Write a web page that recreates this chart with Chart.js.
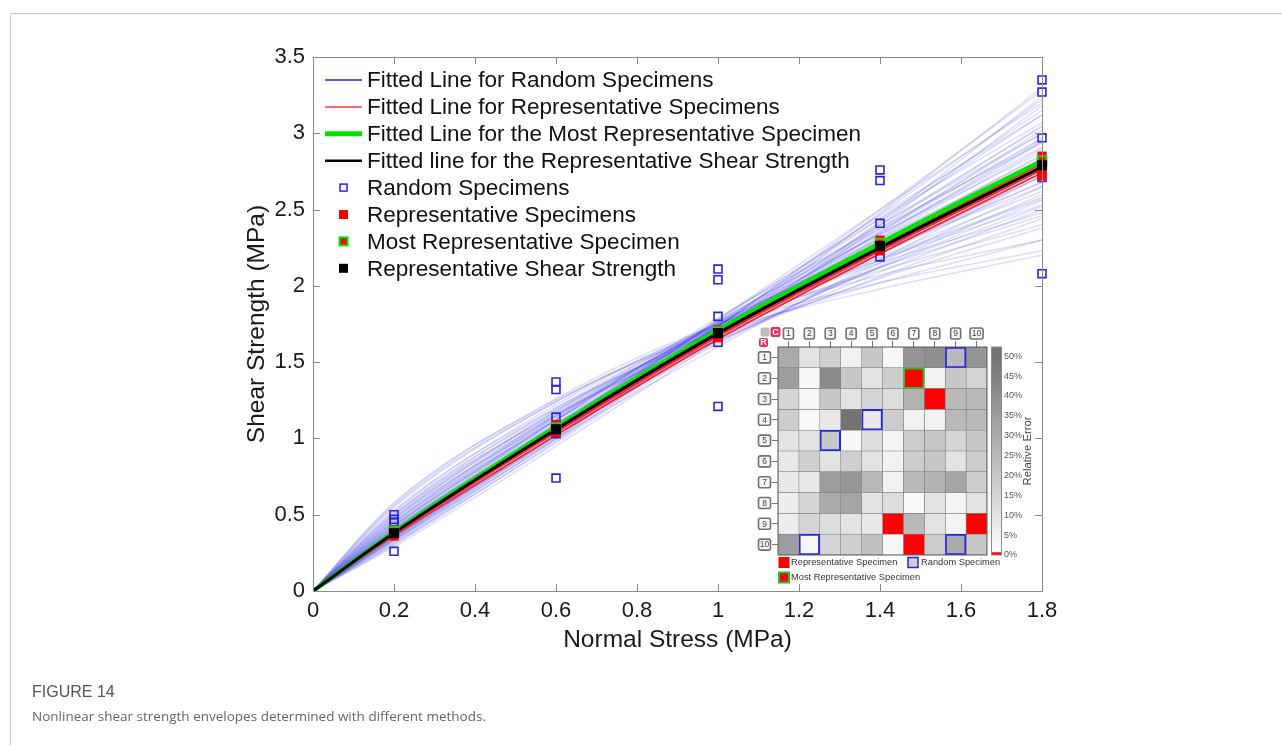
<!DOCTYPE html>
<html>
<head>
<meta charset="utf-8">
<title>Figure 14</title>
<script src="https://cdn.jsdelivr.net/npm/chart.js@4.4.0/dist/chart.umd.min.js"></script>
<style>
  body { margin: 0; background: #fff; width: 1282px; height: 745px; overflow: hidden; position: relative; }
  .card { position: absolute; left: 10px; top: 13px; right: -2px; bottom: -2px; border: 1px solid #c9c9c9; }
  canvas { position: absolute; }
  #fig_no { position: absolute; left: 32px; top: 683px; font: 16px 'Liberation Sans Narrow', 'Liberation Sans', Arial, sans-serif; color: #555; }
  #fig_caption { position: absolute; left: 32px; top: 707px; font: 13.5px 'Open Sans', sans-serif; color: #666; }
</style>
</head>
<body>
<div class="card"></div>
<canvas id="main" width="1282" height="745" style="left:0;top:0"></canvas>
<canvas id="inset" width="310" height="280" style="left:735px;top:315px"></canvas>
<canvas id="cbar" width="60" height="235" style="left:985px;top:335px"></canvas>
<div id="fig_no">FIGURE 14</div>
<div id="fig_caption">Nonlinear shear strength envelopes determined with different methods.</div>

<script>
  // values

  // fitted envelopes, sampled at these normal stresses (MPa)
  const fitStress = [0, 0.2, 0.6, 1.0, 1.4, 1.8];

  const randomFits = [
    [0, 0.30, 0.98, 1.70, 2.48, 3.30],
    [0, 0.31, 1.00, 1.73, 2.50, 3.28],
    [0, 0.33, 1.02, 1.74, 2.47, 3.22],
    [0, 0.29, 0.95, 1.65, 2.40, 3.18],
    [0, 0.34, 1.05, 1.78, 2.50, 3.20],
    [0, 0.32, 1.00, 1.70, 2.42, 3.12],
    [0, 0.35, 1.06, 1.77, 2.46, 3.12],
    [0, 0.33, 1.01, 1.70, 2.38, 3.05],
    [0, 0.36, 1.08, 1.78, 2.44, 3.07],
    [0, 0.34, 1.02, 1.70, 2.36, 3.00],
    [0, 0.37, 1.08, 1.76, 2.40, 3.00],
    [0, 0.35, 1.03, 1.69, 2.33, 2.95],
    [0, 0.38, 1.09, 1.76, 2.37, 2.96],
    [0, 0.36, 1.04, 1.69, 2.31, 2.90],
    [0, 0.40, 1.12, 1.79, 2.38, 2.94],
    [0, 0.37, 1.05, 1.68, 2.28, 2.86],
    [0, 0.41, 1.12, 1.77, 2.34, 2.88],
    [0, 0.38, 1.06, 1.68, 2.26, 2.82],
    [0, 0.42, 1.13, 1.76, 2.31, 2.83],
    [0, 0.36, 1.00, 1.60, 2.17, 2.72],
    [0, 0.43, 1.14, 1.75, 2.28, 2.78],
    [0, 0.40, 1.07, 1.67, 2.21, 2.72],
    [0, 0.44, 1.15, 1.75, 2.26, 2.74],
    [0, 0.39, 1.04, 1.62, 2.15, 2.65],
    [0, 0.45, 1.16, 1.74, 2.23, 2.68],
    [0, 0.41, 1.06, 1.63, 2.13, 2.60],
    [0, 0.47, 1.18, 1.76, 2.23, 2.65],
    [0, 0.43, 1.09, 1.65, 2.12, 2.56],
    [0, 0.48, 1.17, 1.72, 2.17, 2.57],
    [0, 0.45, 1.10, 1.64, 2.09, 2.50],
    [0, 0.50, 1.20, 1.74, 2.17, 2.53],
    [0, 0.47, 1.12, 1.64, 2.06, 2.44],
    [0, 0.52, 1.22, 1.75, 2.15, 2.48],
    [0, 0.50, 1.16, 1.66, 2.05, 2.38],
    [0, 0.55, 1.24, 1.74, 2.10, 2.40],
    [0, 0.53, 1.20, 1.68, 2.02, 2.30],
    [0, 0.57, 1.26, 1.75, 2.07, 2.30],
    [0, 0.56, 1.24, 1.72, 2.02, 2.23],
    [0, 0.58, 1.25, 1.70, 1.98, 2.20],
    [0, 0.33, 0.99, 1.68, 2.35, 3.02],
    [0, 0.31, 0.97, 1.67, 2.42, 3.24],
    [0, 0.34, 1.03, 1.74, 2.44, 3.15],
    [0, 0.36, 1.06, 1.74, 2.40, 3.04],
    [0, 0.37, 1.06, 1.72, 2.35, 2.97],
    [0, 0.39, 1.09, 1.74, 2.34, 2.91],
    [0, 0.40, 1.10, 1.73, 2.30, 2.85],
    [0, 0.42, 1.12, 1.74, 2.28, 2.80],
    [0, 0.43, 1.12, 1.72, 2.24, 2.74],
    [0, 0.45, 1.14, 1.72, 2.21, 2.68],
    [0, 0.46, 1.15, 1.72, 2.19, 2.62],
    [0, 0.49, 1.18, 1.73, 2.18, 2.58],
    [0, 0.48, 1.15, 1.68, 2.12, 2.52],
    [0, 0.51, 1.19, 1.71, 2.12, 2.46],
    [0, 0.38, 1.05, 1.66, 2.22, 2.76],
    [0, 0.41, 1.08, 1.68, 2.22, 2.72],
    [0, 0.35, 1.02, 1.68, 2.32, 2.94]
  ];

  const repFits = [
    [0, 0.36, 1.02, 1.65, 2.21, 2.74],
    [0, 0.37, 1.04, 1.67, 2.23, 2.76],
    [0, 0.38, 1.05, 1.68, 2.24, 2.77],
    [0, 0.39, 1.07, 1.70, 2.27, 2.81],
    [0, 0.38, 1.06, 1.69, 2.26, 2.80]
  ];
  const mostRepFit = [0, 0.385, 1.075, 1.71, 2.28, 2.82];
  const repStrengthFit = [0, 0.38, 1.06, 1.69, 2.25, 2.78];

  // test results
  const testStress = [0.2, 0.6, 1.0, 1.4, 1.8];
  const randomSpecimens = [
    [0.50, 0.47, 0.45, 0.39, 0.26],
    [1.37, 1.32, 1.14, 1.03, 0.74],
    [2.11, 2.04, 1.80, 1.63, 1.21],
    [2.76, 2.69, 2.41, 2.27, 2.19],
    [3.35, 3.27, 2.97, 2.71, 2.08]
  ];
  const repSpecimens = [
    [0.40, 0.39, 0.38, 0.37, 0.36],
    [1.09, 1.07, 1.06, 1.05, 1.04],
    [1.71, 1.70, 1.69, 1.68, 1.66],
    [2.30, 2.28, 2.26, 2.25, 2.23],
    [2.85, 2.82, 2.79, 2.76, 2.72]
  ];
  const mostRepSpecimen = [0.39, 1.07, 1.70, 2.28, 2.82];
  const repStrength = [0.38, 1.06, 1.69, 2.26, 2.79];

  const legendLabels = [
    'Fitted Line for Random Specimens',
    'Fitted Line for Representative Specimens',
    'Fitted Line for the Most Representative Specimen',
    'Fitted line for the Representative Shear Strength',
    'Random Specimens',
    'Representative Specimens',
    'Most Representative Specimen',
    'Representative Shear Strength'
  ];

  // inset: relative error (%) of each specimen pair, rows R x columns C
  const gridRows = ['1', '2', '3', '4', '5', '6', '7', '8', '9', '10'];
  const gridCols = ['1', '2', '3', '4', '5', '6', '7', '8', '9', '10'];
  const relError = [
    [30, 10, 17, 5, 20, 3, 38, 40, 25, 38],
    [35, 3, 42, 20, 10, 18, 0, 5, 20, 15],
    [15, 3, 20, 10, 15, 12, 28, 0, 25, 25],
    [18, 2, 8, 50, 8, 18, 5, 5, 25, 25],
    [10, 10, 20, 3, 12, 4, 18, 20, 15, 20],
    [8, 17, 10, 17, 10, 5, 18, 20, 10, 18],
    [8, 8, 35, 37, 25, 5, 25, 27, 32, 18],
    [6, 15, 30, 32, 10, 12, 2, 10, 4, 10],
    [6, 15, 12, 10, 8, 0, 25, 10, 4, 0],
    [35, 3, 15, 17, 22, 3, 0, 18, 30, 20]
  ];
  const repCells = [[2, 7], [3, 8], [9, 6], [9, 10], [10, 7]];
  const randomCells = [[1, 9], [4, 5], [5, 3], [10, 2], [10, 9]];
  const mostRepCell = [2, 7];
  const insetLegendLabels = ['Representative Specimen', 'Random Specimen', 'Most Representative Specimen'];

  const FONT = "'Liberation Sans', Arial, sans-serif";
  Chart.defaults.font.family = FONT;

  const BLUE = '#2424e6', RED = '#ff0000', GREEN = '#00e400';

  const toPoints = (xs, ys) => xs.map((x, i) => ({x, y: ys[i]}));
  const stackPoints = (cols) => testStress.flatMap((x, i) => cols[i].map(y => ({x, y})));

  const fitLine = (ys, color, width, order) => ({
    data: toPoints(fitStress, ys),
    borderColor: color,
    borderWidth: width,
    pointRadius: 0,
    cubicInterpolationMode: 'monotone',
    order
  });

  const markers = (data, fill, border, radius, bw, order) => ({
    data,
    showLine: false,
    pointStyle: 'rect',
    pointRadius: radius,
    pointBackgroundColor: fill,
    pointBorderColor: border,
    pointBorderWidth: bw,
    clip: false,
    order
  });

  // square drawn like Chart.js 'rect' points
  function square(ctx, x, y, side, fill, stroke, lw) {
    if (fill) { ctx.fillStyle = fill; ctx.fillRect(x - side / 2, y - side / 2, side, side); }
    if (stroke) { ctx.strokeStyle = stroke; ctx.lineWidth = lw; ctx.strokeRect(x - side / 2, y - side / 2, side, side); }
  }

  const framePlugin = {
    id: 'frame',
    afterDatasetsDraw(chart) {
      const {ctx, chartArea: a, scales: {x, y}} = chart;
      ctx.save();
      ctx.strokeStyle = '#8a8a8a';
      ctx.lineWidth = 1;
      ctx.strokeRect(a.left + 0.5, a.top + 0.5, a.right - a.left, a.bottom - a.top);
      ctx.beginPath();
      x.ticks.forEach(t => {
        const px = Math.round(x.getPixelForValue(t.value)) + 0.5;
        ctx.moveTo(px, a.bottom); ctx.lineTo(px, a.bottom - 7);
        ctx.moveTo(px, a.top); ctx.lineTo(px, a.top + 7);
      });
      y.ticks.forEach(t => {
        const py = Math.round(y.getPixelForValue(t.value)) + 0.5;
        ctx.moveTo(a.left, py); ctx.lineTo(a.left + 7, py);
        ctx.moveTo(a.right, py); ctx.lineTo(a.right - 7, py);
      });
      ctx.stroke();
      ctx.restore();
    }
  };

  const legendPlugin = {
    id: 'insideLegend',
    afterDraw(chart) {
      const {ctx, chartArea: a} = chart;
      const samples = [
        (x0, x1, y) => { ctx.strokeStyle = BLUE; ctx.lineWidth = 1.5; line(x0, x1, y); },
        (x0, x1, y) => { ctx.strokeStyle = '#f03c3c'; ctx.lineWidth = 1.5; line(x0, x1, y); },
        (x0, x1, y) => { ctx.strokeStyle = GREEN; ctx.lineWidth = 5; line(x0, x1, y); },
        (x0, x1, y) => { ctx.strokeStyle = '#000'; ctx.lineWidth = 2.5; line(x0, x1, y); },
        (x0, x1, y) => square(ctx, (x0 + x1) / 2, y, 7, null, BLUE, 1.5),
        (x0, x1, y) => square(ctx, (x0 + x1) / 2, y, 9, RED),
        (x0, x1, y) => square(ctx, (x0 + x1) / 2, y, 8, RED, GREEN, 2),
        (x0, x1, y) => square(ctx, (x0 + x1) / 2, y, 9, '#000')
      ];
      function line(x0, x1, y) { ctx.beginPath(); ctx.moveTo(x0, y); ctx.lineTo(x1, y); ctx.stroke(); }
      ctx.save();
      ctx.font = `22.5px ${FONT}`;
      ctx.textBaseline = 'middle';
      legendLabels.forEach((label, i) => {
        const y = a.top + 23 + i * 26.9;
        samples[i](a.left + 12, a.left + 49, y);
        ctx.fillStyle = '#111';
        ctx.fillText(label, a.left + 54, y + 1);
      });
      ctx.restore();
    }
  };

  new Chart(document.getElementById('main'), {
    type: 'line',
    data: {
      datasets: [
        markers(toPoints(testStress, repStrength), '#000', '#000', 7.2, 0, 0),
        markers(toPoints(testStress, mostRepSpecimen), RED, GREEN, 6.2, 2, 1),
        markers(stackPoints(repSpecimens), RED, RED, 6.5, 0, 2),
        markers(stackPoints(randomSpecimens), 'rgba(0,0,0,0)', BLUE, 5.6, 1.6, 3),
        fitLine(repStrengthFit, '#000', 3, 4),
        fitLine(mostRepFit, GREEN, 4.5, 5),
        ...repFits.map(ys => fitLine(ys, '#ff1e1e', 1.6, 6)),
        ...randomFits.map(ys => fitLine(ys, 'rgba(45, 45, 225, 0.16)', 1.5, 7))
      ]
    },
    options: {
      responsive: false,
      animation: false,
      events: [],
      layout: { padding: { left: 243, top: 57, right: 240, bottom: 90 } },
      plugins: { legend: { display: false }, tooltip: { enabled: false } },
      scales: {
        x: {
          type: 'linear', min: 0, max: 1.8,
          grid: { display: false, drawTicks: false }, border: { display: false },
          ticks: { stepSize: 0.2, padding: 7, color: '#1a1a1a', font: { size: 22 }, maxRotation: 0,
                   callback: v => String(+v.toFixed(1)) },
          title: { display: true, text: 'Normal Stress (MPa)', color: '#1a1a1a', font: { size: 24.5 }, padding: 0 },
          afterFit: s => { s.height = 64; }
        },
        y: {
          type: 'linear', min: 0, max: 3.5,
          grid: { display: false, drawTicks: false }, border: { display: false },
          ticks: { stepSize: 0.5, padding: 8, color: '#1a1a1a', font: { size: 22 },
                   callback: v => String(+v.toFixed(1)) },
          title: { display: true, text: 'Shear Strength (MPa)', color: '#1a1a1a', font: { size: 24.5 }, padding: 0 },
          afterFit: s => { s.width = 70; }
        }
      }
    },
    plugins: [framePlugin, legendPlugin]
  });

  // inset: error matrix

  const cellKey = (r, c) => r + ',' + c;
  const repSet = new Set(repCells.map(([r, c]) => cellKey(r, c)));
  const randSet = new Set(randomCells.map(([r, c]) => cellKey(r, c)));
  const grayOf = e => { const g = Math.round(255 - e * 2.8); return `rgb(${g},${g},${g})`; };
  const isMostRep = (r, c) => r === mostRepCell[0] && c === mostRepCell[1];

  function roundBox(ctx, cx, cy, w, h, rad) {
    ctx.beginPath();
    ctx.roundRect(cx - w / 2, cy - h / 2, w, h, rad);
  }

  const insetDecor = {
    id: 'insetDecor',
    afterDraw(chart) {
      const {ctx, chartArea: a, scales: {x, y}} = chart;
      ctx.save();
      ctx.strokeStyle = '#5a5a5a';
      ctx.lineWidth = 1;
      ctx.strokeRect(a.left, a.top, a.right - a.left, a.bottom - a.top);

      ctx.font = `8.5px ${FONT}`;
      ctx.textAlign = 'center';
      ctx.textBaseline = 'middle';
      const label = (cx, cy, w, h, text) => {
        roundBox(ctx, cx, cy, w, h, 2);
        ctx.fillStyle = '#f6f6f6'; ctx.fill();
        ctx.strokeStyle = '#707070'; ctx.lineWidth = 1.6; ctx.stroke();
        ctx.fillStyle = '#444'; ctx.fillText(text, cx, cy + 0.5);
      };
      gridCols.forEach((c, i) => label(x.getPixelForValue(i + 0.5), a.top - 13.5, c.length > 1 ? 13 : 10, 11, c));
      gridRows.forEach((r, i) => label(a.left - 13.5, y.getPixelForValue(i), 12, 11, r));

      // corner badges
      roundBox(ctx, a.left - 13, a.top - 15, 9, 9, 2);
      ctx.fillStyle = '#bdbdbd'; ctx.fill();
      ctx.font = `bold 9px ${FONT}`;
      roundBox(ctx, a.left - 2.5, a.top - 15, 10, 10, 2);
      ctx.fillStyle = '#f0305a'; ctx.fill();
      ctx.fillStyle = '#fff'; ctx.fillText('C', a.left - 2.5, a.top - 14.5);
      roundBox(ctx, a.left - 14.5, a.top - 4.5, 9, 9, 2);
      ctx.fillStyle = '#f0305a'; ctx.fill();
      ctx.fillStyle = '#fff'; ctx.fillText('R', a.left - 14.5, a.top - 4);

      // legend under the matrix
      ctx.font = `9.3px ${FONT}`;
      ctx.textAlign = 'left';
      const y1 = a.bottom + 7.5, y2 = a.bottom + 22.5;
      square(ctx, a.left + 6, y1, 11, RED);
      ctx.fillStyle = '#333'; ctx.fillText(insetLegendLabels[0], a.left + 13, y1);
      square(ctx, a.left + 135, y1, 10, '#cfcfcf', BLUE, 1.5);
      ctx.fillStyle = '#333'; ctx.fillText(insetLegendLabels[1], a.left + 143, y1);
      square(ctx, a.left + 6, y2, 10, RED, '#22c322', 2);
      ctx.fillStyle = '#333'; ctx.fillText(insetLegendLabels[2], a.left + 13, y2);
      ctx.restore();
    }
  };

  new Chart(document.getElementById('inset'), {
    type: 'bar',
    data: {
      labels: gridRows,
      datasets: gridCols.map((col, j) => ({
        label: col,
        data: gridRows.map(() => 1),
        backgroundColor: c => repSet.has(cellKey(c.dataIndex + 1, j + 1)) ? RED : grayOf(relError[c.dataIndex][j]),
        borderColor: c => {
          const r = c.dataIndex + 1, k = j + 1;
          if (isMostRep(r, k)) return '#22c322';
          if (randSet.has(cellKey(r, k))) return BLUE;
          return '#808080';
        },
        borderWidth: c => {
          const r = c.dataIndex + 1, k = j + 1;
          return isMostRep(r, k) || randSet.has(cellKey(r, k)) ? 2 : 0.6;
        },
        borderSkipped: false,
        barPercentage: 1,
        categoryPercentage: 1
      }))
    },
    options: {
      indexAxis: 'y',
      responsive: false,
      animation: false,
      events: [],
      layout: { padding: { left: 20, top: 10, right: 58, bottom: 40 } },
      plugins: { legend: { display: false }, tooltip: { enabled: false } },
      scales: {
        x: {
          type: 'linear', position: 'top', stacked: true, min: 0, max: 10,
          afterBuildTicks: s => { s.ticks = gridCols.map((c, i) => ({value: i + 0.5})); },
          ticks: { display: false },
          grid: { drawOnChartArea: false, tickLength: 6, color: '#777' },
          border: { display: false },
          afterFit: s => { s.height = 22; }
        },
        y: {
          type: 'category', stacked: true,
          ticks: { display: false },
          grid: { drawOnChartArea: false, tickLength: 6, offset: false, color: '#777' },
          border: { display: false },
          afterFit: s => { s.width = 23; }
        }
      }
    },
    plugins: [insetDecor]
  });

  // colour bar for the relative error
  const cbarDecor = {
    id: 'cbarDecor',
    afterDraw(chart) {
      const {ctx, chartArea: a} = chart;
      ctx.save();
      ctx.strokeStyle = '#8a8a8a';
      ctx.lineWidth = 1;
      ctx.strokeRect(a.left + 0.5, a.top, a.right - a.left, a.bottom - a.top);
      ctx.translate(a.right + 27, (a.top + a.bottom) / 2);
      ctx.rotate(-Math.PI / 2);
      ctx.font = `11.3px ${FONT}`;
      ctx.fillStyle = '#444';
      ctx.textAlign = 'center';
      ctx.textBaseline = 'middle';
      ctx.fillText('Relative Error', 0, 0);
      ctx.restore();
    }
  };

  new Chart(document.getElementById('cbar'), {
    type: 'bar',
    data: {
      labels: [''],
      datasets: [
        {
          data: [[0.75, 52.3]],
          backgroundColor: c => {
            const {chart} = c;
            if (!chart.chartArea) return '#ccc';
            const ys = chart.scales.y;
            const g = chart.ctx.createLinearGradient(0, ys.getPixelForValue(0), 0, ys.getPixelForValue(50));
            g.addColorStop(0, '#ffffff');
            g.addColorStop(1, grayOf(50));
            return g;
          },
          grouped: false, barPercentage: 1, categoryPercentage: 1
        },
        { data: [[0, 0.75]], backgroundColor: RED, grouped: false, barPercentage: 1, categoryPercentage: 1 }
      ]
    },
    options: {
      responsive: false,
      animation: false,
      events: [],
      layout: { padding: { left: 6, top: 12, right: 0, bottom: 15 } },
      plugins: { legend: { display: false }, tooltip: { enabled: false } },
      scales: {
        x: { display: false },
        y: {
          position: 'right', min: 0, max: 52.3,
          ticks: { stepSize: 5, includeBounds: false, padding: 3, color: '#555', font: { size: 9 },
                   callback: v => v + '%' },
          grid: { display: false, drawTicks: false }, border: { display: false },
          afterFit: s => { s.width = 44; }
        }
      }
    },
    plugins: [cbarDecor]
  });
</script>
</body>
</html>
